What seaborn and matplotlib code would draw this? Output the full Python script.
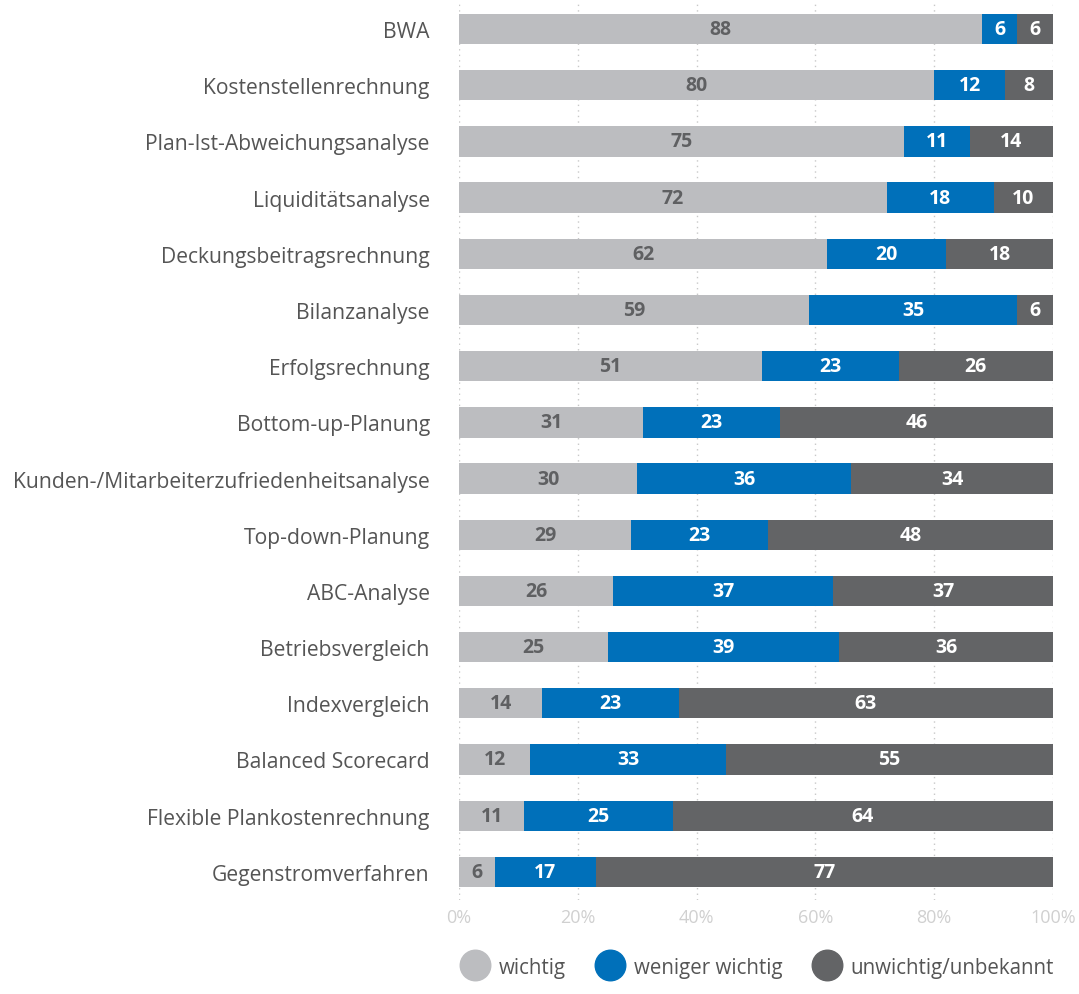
"""Stacked horizontal bars: importance of controlling instruments."""
import matplotlib
matplotlib.use("Agg")
import matplotlib.pyplot as plt
from matplotlib.lines import Line2D
from matplotlib.ticker import FuncFormatter
import numpy as np
import pandas as pd
import seaborn as sns

categories = [
    "BWA", "Kostenstellenrechnung", "Plan-Ist-Abweichungsanalyse",
    "Liquiditätsanalyse", "Deckungsbeitragsrechnung", "Bilanzanalyse",
    "Erfolgsrechnung", "Bottom-up-Planung",
    "Kunden-/Mitarbeiterzufriedenheitsanalyse", "Top-down-Planung",
    "ABC-Analyse", "Betriebsvergleich", "Indexvergleich",
    "Balanced Scorecard", "Flexible Plankostenrechnung", "Gegenstromverfahren",
]
wichtig = [88, 80, 75, 72, 62, 59, 51, 31, 30, 29, 26, 25, 14, 12, 11, 6]
weniger_wichtig = [6, 12, 11, 18, 20, 35, 23, 23, 36, 23, 37, 39, 23, 33, 25, 17]
unwichtig = [6, 8, 14, 10, 18, 6, 26, 46, 34, 48, 37, 36, 63, 55, 64, 77]
series_names = ["wichtig", "weniger wichtig", "unwichtig/unbekannt"]
colors = ["#BCBDC0", "#0070BA", "#636466"]
label_colors = ["#5F6062", "white", "white"]

sns.set_style("white")
plt.rcParams["font.family"] = ["Open Sans", "DejaVu Sans"]

df = pd.DataFrame({"cat": categories, "w": wichtig,
                   "ww": weniger_wichtig, "u": unwichtig})
df["c1"] = df["w"]
df["c2"] = df["w"] + df["ww"]
df["c3"] = df["c2"] + df["u"]

fig = plt.figure(figsize=(10.79, 9.95), dpi=100)
ax = fig.add_axes([0.4254, 0.0945, 0.5505, 0.9036])

# draw back to front: cumulative totals layered over each other
for col, color in zip(["c3", "c2", "c1"], colors[::-1]):
    sns.barplot(data=df, x=col, y="cat", color=color, width=0.54,
                saturation=1, linewidth=0, ax=ax, order=categories)

ax.set_xlim(0, 100)
ax.set_ylim(len(categories) - 0.5, -0.5)
ax.set_xlabel(""); ax.set_ylabel("")
ax.set_xticks(np.arange(0, 101, 20))
ax.xaxis.set_major_formatter(FuncFormatter(lambda v, _: f"{v:.0f}%"))
ax.tick_params(axis="x", colors="#D0D0D0", labelsize=13, length=0, pad=6)
ax.tick_params(axis="y", colors="#555555", labelsize=15.2, length=0, pad=21)
ax.xaxis.grid(True, color="#C8C8C8", linestyle=(0, (1, 3)), linewidth=1)
ax.set_axisbelow(True)
for s in ax.spines.values():
    s.set_visible(False)

# segment value labels
segs = [("w", "c1"), ("ww", "c2"), ("u", "c3")]
for i, row in df.iterrows():
    for (val, cum), tc in zip(segs, label_colors):
        v = row[val]
        ax.text(row[cum] - v / 2, i, f"{v}", ha="center", va="center",
                color=tc, fontsize=14, fontweight="bold")

handles = [Line2D([], [], marker="o", linestyle="", markersize=22,
                  markerfacecolor=c, markeredgecolor=c) for c in colors]
fig.legend(handles, series_names, loc="center", ncol=3,
           bbox_to_anchor=(0.699, 0.027), frameon=False, fontsize=14.8,
           labelcolor="#555555", handletextpad=0.15, columnspacing=1.15)

fig.savefig("out.png", dpi=100)
